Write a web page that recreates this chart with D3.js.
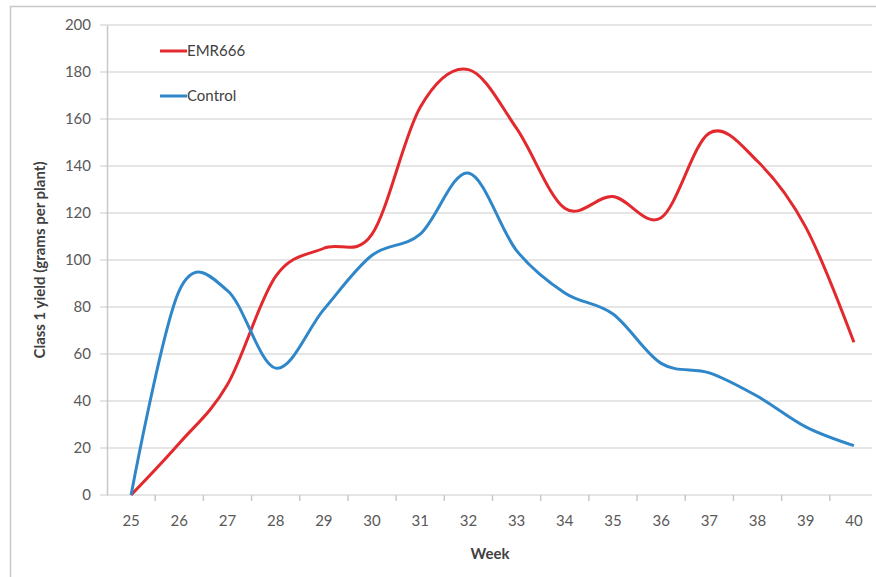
<!DOCTYPE html>
<html>
<meta charset="utf-8">
<head>
    <script src="https://d3js.org/d3.v7.min.js"></script>
    <style>
        body { margin: 0; background: #fff; }
        text { font-family: Lato, "Open Sans", sans-serif; }
    </style>
</head>
<body>
    <script>

        var weeks = [25, 26, 27, 28, 29, 30, 31, 32, 33, 34, 35, 36, 37, 38, 39, 40];
        var emr666 = [0, 22, 47, 93, 105, 111, 165, 181, 156, 122, 127, 118, 154, 142, 114, 65];
        var control = [0, 87, 87, 54, 79, 102, 111, 137, 104, 86, 77, 56, 52, 42, 29, 21];
        var yTicks = [0, 20, 40, 60, 80, 100, 120, 140, 160, 180, 200];

        var width = 876,
            height = 577;

        var svg = d3.select("body").append("svg")
            .attr("width", width)
            .attr("height", height);

        // outer frame
        svg.append("rect")
            .attr("x", 10.5).attr("y", 6.5)
            .attr("width", width + 20).attr("height", height + 20)
            .attr("fill", "none")
            .attr("stroke", "#c8c8c8")
            .attr("stroke-width", 1.5);

        var x = d3.scaleBand()
            .domain(weeks)
            .range([107, 878]);

        var y = d3.scaleLinear()
            .domain([0, 200])
            .range([495, 25]);

        var cx = d => x(d) + x.bandwidth() / 2;

        // gridlines
        svg.append("g")
            .selectAll("line")
            .data(yTicks)
            .enter()
            .append("line")
            .attr("x1", 100).attr("x2", 872)
            .attr("y1", d => y(d)).attr("y2", d => y(d))
            .attr("stroke", "#dcdcdc")
            .attr("stroke-width", 1.5);

        // y axis
        var yAxis = svg.append("g")
            .attr("transform", "translate(107,0)")
            .call(d3.axisLeft(y).tickValues(yTicks).tickSize(0).tickPadding(16));
        yAxis.select(".domain").attr("stroke", "#c8c8c8").attr("stroke-width", 1.5);
        yAxis.selectAll("text").attr("font-size", 15).attr("fill", "#595959");

        // x axis
        var xAxis = svg.append("g")
            .attr("transform", "translate(0," + y(0) + ")")
            .call(d3.axisBottom(x).tickSize(0).tickPadding(20));
        xAxis.select(".domain").remove();
        xAxis.selectAll("text").attr("font-size", 15).attr("fill", "#595959");

        // x tick marks between categories
        svg.append("g")
            .selectAll("line")
            .data(weeks.slice(1))
            .enter()
            .append("line")
            .attr("x1", d => x(d)).attr("x2", d => x(d))
            .attr("y1", y(0)).attr("y2", y(0) + 6)
            .attr("stroke", "#c8c8c8")
            .attr("stroke-width", 1.5);

        // axis titles
        svg.append("text")
            .attr("transform", "translate(45,260) rotate(-90)")
            .attr("text-anchor", "middle")
            .attr("font-size", 15)
            .attr("font-weight", "bold")
            .attr("fill", "#404040")
            .text("Class 1 yield (grams per plant)");

        svg.append("text")
            .attr("x", 490).attr("y", 559)
            .attr("text-anchor", "middle")
            .attr("font-size", 15)
            .attr("font-weight", "bold")
            .attr("fill", "#404040")
            .text("Week");

        var line = d3.line()
            .x((d, i) => cx(weeks[i]))
            .y(d => y(d))
            .curve(d3.curveCardinal.tension(0));

        var series = [
            { name: "EMR666", values: emr666, color: "#e2292d" },
            { name: "Control", values: control, color: "#2f87c9" }
        ];

        svg.selectAll(".series")
            .data(series)
            .enter()
            .append("path")
            .attr("class", "series")
            .attr("d", d => line(d.values))
            .attr("fill", "none")
            .attr("stroke", d => d.color)
            .attr("stroke-width", 3);

        // legend
        var legend = svg.selectAll(".legend")
            .data(series)
            .enter()
            .append("g")
            .attr("class", "legend")
            .attr("transform", (d, i) => "translate(160," + (51 + i * 45) + ")");

        legend.append("line")
            .attr("x1", 0).attr("x2", 27)
            .attr("stroke", d => d.color)
            .attr("stroke-width", 3);

        legend.append("text")
            .attr("x", 27).attr("y", 5)
            .attr("font-size", 15)
            .attr("fill", "#404040")
            .text(d => d.name);

    </script>
</body>
</html>
